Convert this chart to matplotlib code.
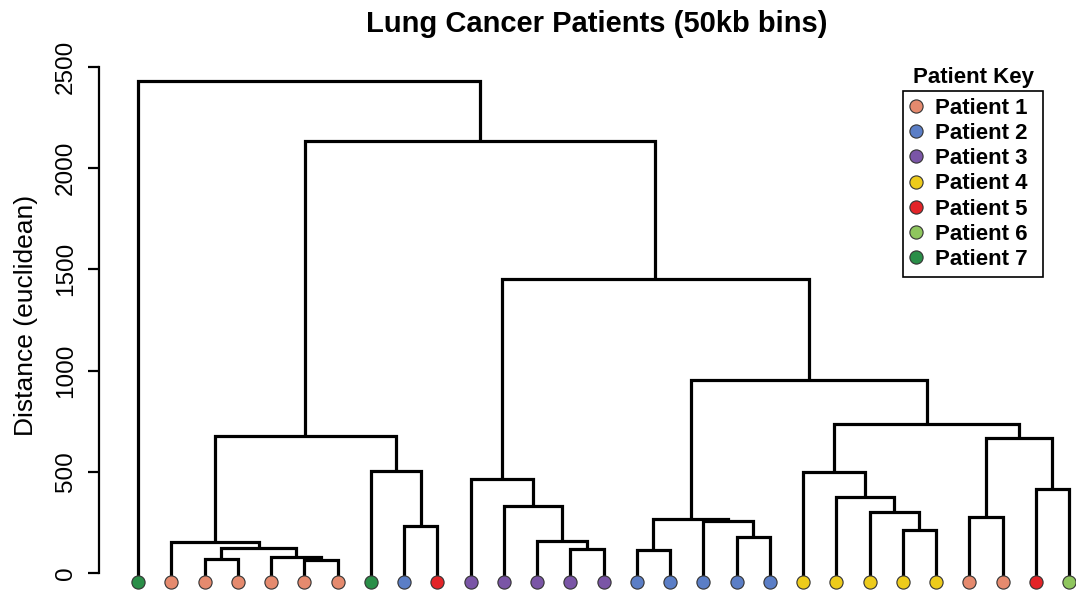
import matplotlib
matplotlib.use("Agg")
from matplotlib import pyplot as plt
from matplotlib.lines import Line2D
import numpy as np

plt.rcParams['font.family'] = ['Liberation Sans', 'DejaVu Sans']

# leaf patients, left to right (1..7)
leaf_patient = [7, 1, 1, 1, 1, 1, 1, 7, 2, 5,
                3, 3, 3, 3, 3, 2, 2, 2, 2, 2,
                4, 4, 4, 4, 4, 1, 1, 5, 6]

# merges: (child a, child b, height); ids < 29 are leaves, ids >= 29 earlier merges
merge_a = [5, 2, 4, 15, 13, 30, 1, 12, 18, 23, 8, 17, 32, 25,
           22, 11, 21, 27, 10, 20, 7, 42, 35, 48, 41, 47, 51, 0]
merge_b = [6, 3, 29, 16, 14, 31, 34, 33, 19, 24, 9, 37, 40, 26,
           38, 36, 43, 28, 44, 45, 39, 46, 49, 50, 52, 53, 54, 55]
merge_h = [66, 69, 81, 112, 118, 125, 153, 157, 180, 212, 234, 257, 265, 275,
           301, 331, 374, 415, 464, 501, 504, 666, 677, 736, 954, 1453, 2134, 2431]

patient_names = ['Patient 1', 'Patient 2', 'Patient 3', 'Patient 4',
                 'Patient 5', 'Patient 6', 'Patient 7']
patient_colors = ['#E58A6E', '#5B7EC6', '#7A55A6', '#EDCB1C',
                  '#E32428', '#8FC65E', '#2A8E48']

y_ticks = [0, 500, 1000, 1500, 2000, 2500]

n_leaf = len(leaf_patient)
leaf_y = -43

# node positions
xpos = {i: i + 1 for i in range(n_leaf)}
ypos = {i: 0 for i in range(n_leaf)}

W, H = 1076, 593
fig = plt.figure(figsize=(W / 100, H / 100), dpi=100)
ax_l, ax_w, ax_h = 99, 977, 546.4
ax = fig.add_axes([ax_l / W, 0, ax_w / W, ax_h / H])

lw = 2.3
for k, (a, b, h) in enumerate(zip(merge_a, merge_b, merge_h)):
    node = n_leaf + k
    xa, xb = xpos[a], xpos[b]
    ya = ypos[a] if a >= n_leaf else leaf_y
    yb = ypos[b] if b >= n_leaf else leaf_y
    ax.plot([xa, xa, xb, xb], [ya, h, h, yb], color='black', lw=lw,
            solid_joinstyle='miter', solid_capstyle='butt', clip_on=False)
    xpos[node] = (xa + xb) / 2
    ypos[node] = h

for i, p in enumerate(leaf_patient):
    ax.plot(xpos[i], leaf_y, 'o', ms=9.5, mfc=patient_colors[p - 1],
            mec='#333333', mew=0.8, clip_on=False, zorder=5)

ax.set_xlim(1 - 39 / 33.25, 29 + 7 / 33.25)
ax.set_ylim(-98.8, 2600)

for s in ['top', 'right', 'bottom']:
    ax.spines[s].set_visible(False)
ax.spines['left'].set_bounds(0, 2500)
ax.spines['left'].set_linewidth(1.6)
ax.set_xticks([])
ax.set_yticks(y_ticks)
ax.set_yticklabels([str(t) for t in y_ticks], rotation=90, va='center', fontsize=17.5)
ax.tick_params(axis='y', length=8, width=1.6, pad=8)
ax.set_ylabel('Distance (euclidean)', fontsize=19)
ax.yaxis.set_label_coords(-61 / ax_w, (593 - 315) / ax_h)

fig.text(597 / W, 1 - 24 / H, 'Lung Cancer Patients (50kb bins)',
         ha='center', va='center', fontsize=21, fontweight='bold')

# legend box: x 903..1043, y 91..272 (pixels from top)
handles = [Line2D([], [], ls='none', marker='o', ms=9.5, mfc=c, mec='#333333', mew=0.8)
           for c in patient_colors]
bx0 = (903 - ax_l) / ax_w
by1 = (H - 91) / ax_h
bw = 140 / ax_w
leg = ax.legend(handles, patient_names, loc='upper left', mode='expand',
                bbox_to_anchor=(bx0, by1 - 0.3, bw, 0.3), borderaxespad=0,
                prop={'weight': 'bold', 'size': 16}, fancybox=False,
                edgecolor='black', framealpha=1, handletextpad=0.55,
                handlelength=0.6, labelspacing=0.19, borderpad=0.3)
leg.get_frame().set_linewidth(1.2)
fig.text(973.5 / W, 1 - 77 / H, 'Patient Key', ha='center', va='center',
         fontsize=16, fontweight='bold')

fig.savefig('out.png', dpi=100)
